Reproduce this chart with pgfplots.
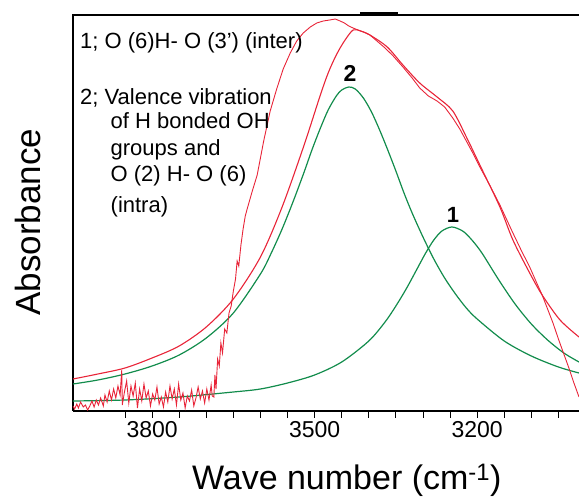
\documentclass[border=0pt]{standalone}
\usepackage{pgfplots}
\pgfplotsset{compat=1.18}
\usepackage{fontspec}
\setmainfont{Liberation Sans}
\definecolor{specred}{RGB}{232,36,56}
\definecolor{fitgreen}{RGB}{18,140,76}

\begin{document}
\begin{tikzpicture}[note/.style={anchor=base west, inner sep=0, font=\fontsize{22}{22}\selectfont}]
\begin{axis}[
    scale only axis,
    width=506pt, height=396pt,
    x dir=reverse,
    xmin=3012, xmax=3946,
    ymin=0, ymax=3.96,
    axis x line*=bottom,
    axis y line*=left,
    axis line style={line width=2.4pt},
    clip mode=individual,
    xtick={3200,3500,3800},
    minor xtick={3050,3100,3150,3250,3300,3350,3400,3450,3550,3600,3650,3700,3750,3850},
    ytick=\empty,
    tick align=outside,
    major tick length=7pt,
    minor tick length=7pt,
    every tick/.style={black, line width=0.9pt},
    /pgf/number format/assume math mode=true,
    /pgf/number format/set thousands separator={},
    xticklabel style={font=\fontsize{23}{23}\selectfont},
    xlabel={Wave number (cm\textsuperscript{-1})},
    xlabel style={at={(axis description cs:0.541,-0.199)}, anchor=base,
                  font=\fontsize{34}{34}\selectfont},
    ylabel={Absorbance},
    ylabel style={at={(axis description cs:-0.0889,0.477)}, anchor=center,
                  font=\fontsize{35}{35}\selectfont},
  ]

  % --- band 2 (fitted) ---
  \addplot[fitgreen, line width=1.2pt, smooth] coordinates {
  (3946,0.27) (3900,0.31) (3850,0.37) (3800,0.45) (3750,0.56) (3700,0.73)
  (3650,0.98) (3600,1.37) (3580,1.58) (3560,1.82) (3540,2.09) (3520,2.38)
  (3505,2.61) (3490,2.82) (3475,3.01) (3460,3.15) (3450,3.21) (3437,3.24)
  (3425,3.22) (3410,3.13) (3395,2.99) (3380,2.81) (3365,2.61) (3350,2.40)
  (3335,2.18) (3320,1.98) (3300,1.74) (3280,1.52) (3260,1.33) (3240,1.17)
  (3220,1.03) (3200,0.92) (3150,0.70) (3100,0.55) (3050,0.44) (3012,0.38)
  };

  % --- band 1 (fitted) ---
  \addplot[fitgreen, line width=1.2pt, smooth] coordinates {
  (3946,0.10) (3850,0.11) (3750,0.14) (3650,0.19) (3600,0.22) (3550,0.28)
  (3500,0.36) (3450,0.49) (3400,0.70) (3370,0.89) (3350,1.05) (3330,1.23)
  (3310,1.43) (3295,1.58) (3280,1.71) (3265,1.80) (3247,1.84) (3230,1.81)
  (3220,1.77) (3205,1.68) (3190,1.57) (3160,1.31) (3130,1.07) (3100,0.87)
  (3070,0.71) (3040,0.58) (3012,0.49)
  };

  % --- sum of fitted bands ---
  \addplot[specred, line width=1.1pt, smooth] coordinates {
  (3946,0.32) (3900,0.37) (3850,0.43) (3800,0.53) (3750,0.65) (3700,0.84)
  (3650,1.12) (3600,1.54) (3560,2.04) (3520,2.65) (3490,3.15) (3475,3.38)
  (3460,3.56) (3445,3.70) (3429,3.81) (3415,3.80) (3398,3.76) (3366,3.64)
  (3337,3.46) (3306,3.28) (3274,3.14) (3245,3.00) (3219,2.73) (3195,2.46)
  (3158,2.04) (3134,1.71) (3103,1.38) (3080,1.16) (3047,0.91) (3012,0.74)
  };

  % --- measured spectrum ---
  \addplot[specred, line width=0.9pt] coordinates {
  (3946,0.05) (3943,0.02) (3939,0.07) (3936,0.03) (3932,0.09) (3927,0.04)
  (3923,0.06) (3919,0.01) (3915,0.05) (3911,0.10) (3907,0.04) (3903,0.11)
  (3899,0.06) (3895,0.13) (3890,0.05) (3887,0.16) (3883,0.09) (3879,0.20)
  (3875,0.11) (3871,0.22) (3867,0.13) (3863,0.25) (3859,0.16) (3856,0.41)
  (3855,0.06) (3851,0.19) (3847,0.30) (3843,0.08) (3839,0.25) (3835,0.15)
  (3831,0.28) (3827,0.03) (3823,0.22) (3819,0.10) (3815,0.27) (3811,0.13)
  (3807,0.20) (3803,0.05) (3799,0.17) (3795,0.11) (3791,0.24) (3787,0.07)
  (3783,0.14) (3779,0.04) (3775,0.19) (3771,0.09) (3767,0.25) (3763,0.12)
  (3759,0.22) (3755,0.06) (3751,0.27) (3747,0.11) (3743,0.18) (3739,0.03)
  (3735,0.15) (3731,0.10) (3727,0.21) (3723,0.05) (3719,0.13) (3715,0.24)
  (3711,0.12) (3707,0.20) (3703,0.08) (3699,0.22) (3695,0.11) (3691,0.26)
  (3689,0.15) (3686,0.14) (3684,0.36) (3682,0.22) (3679,0.52) (3676,0.45)
  (3673,0.68) (3670,0.58) (3666,0.82) (3662,0.78) (3658,0.98) (3654,1.05)
  (3650,1.20) (3646,1.32) (3643,1.50) (3640,1.45) (3636,1.66) (3632,1.82)
  (3628,1.95) (3624,2.03) (3615,2.20) (3606,2.36) (3594,2.70) (3582,3.00)
  (3570,3.22) (3558,3.42) (3545,3.58) (3533,3.70) (3521,3.78) (3508,3.84)
  (3496,3.88) (3484,3.90) (3472,3.91) (3462,3.92) (3453,3.90) (3445,3.88)
  (3437,3.85) (3429,3.83) (3420,3.81) (3410,3.79) (3398,3.76) (3385,3.70)
  (3370,3.63) (3355,3.55) (3337,3.44) (3320,3.33) (3306,3.23) (3290,3.15)
  (3274,3.10) (3260,3.04) (3245,2.93) (3232,2.82) (3219,2.69) (3207,2.57)
  (3195,2.44) (3176,2.25) (3158,2.06) (3146,1.92) (3134,1.78) (3118,1.60)
  (3103,1.44) (3090,1.28) (3080,1.16) (3070,1.02) (3060,0.88) (3050,0.72)
  (3042,0.60) (3030,0.42) (3022,0.29) (3016,0.20) (3012,0.14)
  };

  % top frame line and annotations
  \draw[line width=2.4pt, line cap=rect] (rel axis cs:0,1) -- (rel axis cs:1,1);
  \draw[line width=3pt] ([yshift=1.5pt]rel axis cs:0.567,1) -- ([yshift=1.5pt]rel axis cs:0.642,1);
  \coordinate (sw) at (rel axis cs:0,0);

  \node[note] at (rel axis cs:0.0138,0.915) {1; O (6)H- O (3’) (inter)};
  \node[note] at (rel axis cs:0.0138,0.774) {2; Valence vibration};
  \node[note] at (rel axis cs:0.0741,0.713) {of H bonded OH};
  \node[note] at (rel axis cs:0.0741,0.645) {groups and};
  \node[note] at (rel axis cs:0.0741,0.580) {O (2) H- O (6)};
  \node[note] at (rel axis cs:0.0741,0.5025) {(intra)};
  \node[inner sep=0, font=\fontsize{23}{23}\selectfont\bfseries] at (rel axis cs:0.5474,0.852) {2};
  \node[inner sep=0, font=\fontsize{22}{22}\selectfont\bfseries] at (rel axis cs:0.751,0.495) {1};

\end{axis}
\pgfresetboundingbox
\path (sw) ++(-73pt,-86pt) rectangle ++(579pt,497pt);
\end{tikzpicture}
\end{document}
